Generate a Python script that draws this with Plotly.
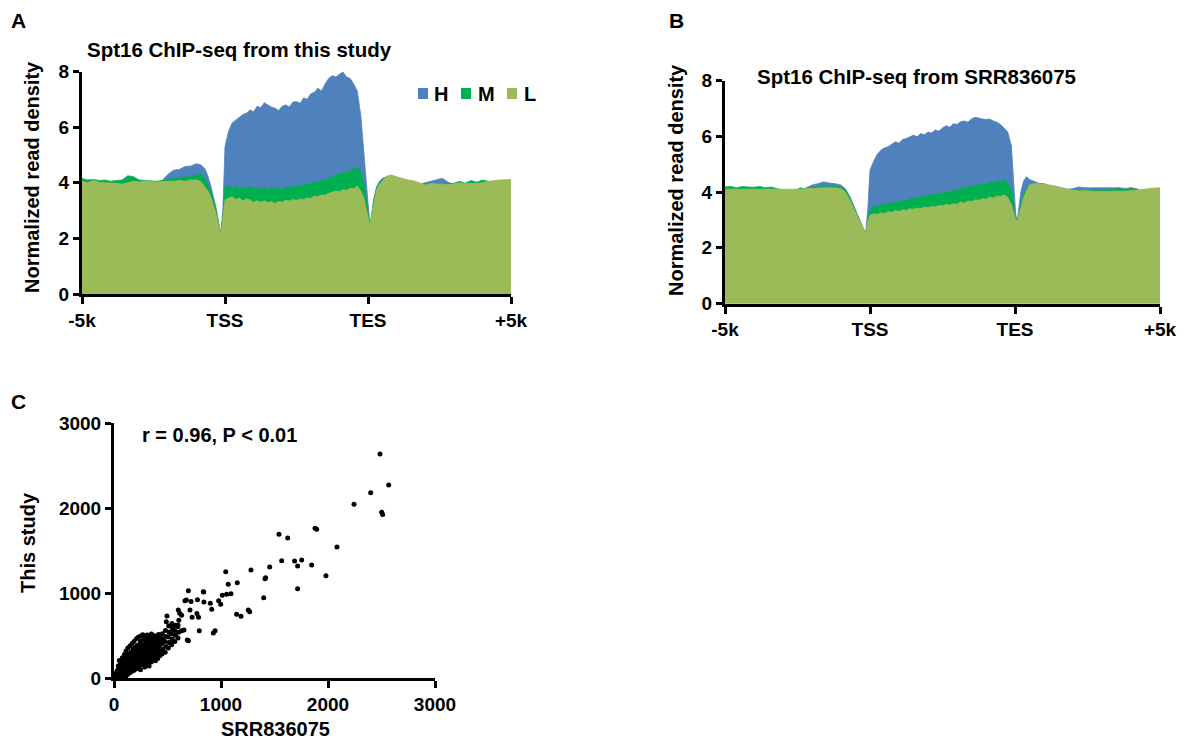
import plotly.graph_objects as go

PAGE_W, PAGE_H = 1186, 740
BODY_MARGIN = 8  # default page margin around the plot div
W, H = PAGE_W - BODY_MARGIN, PAGE_H - BODY_MARGIN
FONT = "Arial, 'Liberation Sans', sans-serif"
C_H, C_M, C_L = "#4F81BD", "#00B050", "#9BBB59"

# ---- metagene positions (0 = -5k, 100 = TSS, 200 = TES, 300 = +5k) ----
POS = [0, 4, 8, 12, 16, 20, 24, 28, 32, 36, 40, 44, 48, 52, 56, 60, 64, 68, 72, 76, 80, 83, 86, 88, 90, 92, 94, 95.5, 97, 98.5, 99.5,
       100, 102.5, 105, 107.5, 110, 112.5, 115, 117.5, 120, 122.5, 125, 127.5, 130, 132.5, 135, 137.5, 140, 142.5, 145, 147.5,
       150, 152.5, 155, 157.5, 160, 162.5, 165, 167.5, 170, 172.5, 175, 177.5, 180, 182.5, 185, 187.5, 190, 192.5, 195, 197.5,
       198.5, 199.5, 200.5, 201.5, 202.5, 204, 206, 208, 210, 213, 216, 220,
       224, 228, 232, 236, 240, 244, 248, 252, 256, 260, 264, 268, 272, 276, 280, 284, 288, 292, 296, 300]
POS_TICKS = [0, 100, 200, 300]
POS_LABELS = ["-5k", "TSS", "TES", "+5k"]
DENSITY_TICKS = [0, 2, 4, 6, 8]

# ---- Panel A: Spt16 ChIP-seq from this study ----
A_H = [4.0, 4.0, 4.0, 4.0, 4.0, 4.0, 4.0, 3.95, 4.0, 4.0, 4.0, 4.0, 4.0, 4.0, 4.08, 4.3, 4.45, 4.48, 4.58, 4.6, 4.68, 4.65, 4.5, 4.25, 3.9, 3.5, 3.05, 2.6, 2.15, 3.0, 4.3,
       5.3, 5.85, 6.15, 6.25, 6.35, 6.45, 6.5, 6.62, 6.55, 6.75, 6.7, 6.88, 6.8, 6.72, 6.68, 6.6, 6.75, 6.8, 6.72, 6.9,
       6.92, 6.85, 7.05, 7.0, 7.2, 7.25, 7.4, 7.3, 7.55, 7.75, 7.85, 7.8, 7.9, 7.98, 7.8, 7.75, 7.55, 7.3, 6.4, 4.9,
       4.2, 3.5, 2.8, 2.35, 2.8, 3.4, 3.85, 4.05, 4.15, 4.22, 4.25, 4.2,
       4.1, 4.05, 4.0, 3.95, 4.0, 4.05, 4.12, 4.16, 4.02, 3.95, 3.95, 3.95, 3.95, 3.95, 3.95, 4.0, 4.0, 4.0, 4.0, 4.0]
A_M = [4.15, 4.1, 4.12, 4.08, 4.1, 4.05, 4.08, 4.1, 4.25, 4.22, 4.1, 4.08, 4.05, 4.05, 4.08, 4.12, 4.15, 4.18, 4.2, 4.22, 4.28, 4.3, 4.15, 3.95, 3.7, 3.35, 2.95, 2.55, 2.13, 2.8, 3.5,
       3.85, 3.9, 3.78, 3.88, 3.75, 3.85, 3.8, 3.9, 3.78, 3.84, 3.74, 3.82, 3.76, 3.86, 3.78, 3.82, 3.75, 3.85, 3.8, 3.9,
       3.84, 3.92, 3.88, 3.98, 3.95, 4.05, 4.0, 4.1, 4.08, 4.2, 4.18, 4.3, 4.28, 4.38, 4.35, 4.45, 4.48, 4.58, 4.4, 3.9,
       3.5, 3.1, 2.7, 2.4, 2.85, 3.35, 3.8, 4.0, 4.1, 4.2, 4.2, 4.15,
       4.05, 4.0, 4.0, 3.9, 3.92, 3.95, 3.95, 3.92, 3.95, 3.98, 4.05, 3.98, 4.08, 4.02, 4.1, 4.05, 4.0, 4.05, 4.05, 4.08]
A_L = [4.05, 4.0, 4.08, 4.02, 4.0, 4.0, 3.98, 3.95, 4.0, 4.05, 4.03, 4.06, 4.05, 4.02, 4.05, 4.05, 4.05, 4.08, 4.05, 4.1, 4.1, 4.05, 3.85, 3.7, 3.5, 3.2, 2.85, 2.5, 2.12, 2.7, 3.2,
       3.38, 3.45, 3.5, 3.4, 3.45, 3.35, 3.42, 3.38, 3.3, 3.36, 3.3, 3.35, 3.28, 3.32, 3.26, 3.33, 3.3, 3.38, 3.34, 3.4,
       3.36, 3.42, 3.4, 3.46, 3.44, 3.52, 3.5, 3.56, 3.55, 3.62, 3.66, 3.7, 3.68, 3.75, 3.72, 3.8, 3.78, 3.88, 3.7, 3.4,
       3.1, 2.85, 2.6, 2.45, 2.85, 3.2, 3.74, 3.95, 4.05, 4.24, 4.28, 4.22,
       4.15, 4.1, 4.07, 4.0, 3.92, 3.97, 3.95, 3.95, 3.93, 3.96, 4.0, 3.97, 3.97, 3.98, 4.0, 4.05, 4.08, 4.1, 4.1, 4.12]

# ---- Panel B: Spt16 ChIP-seq from SRR836075 ----
B_H = [4.0, 4.0, 4.0, 4.0, 4.0, 4.0, 4.0, 4.0, 4.0, 4.0, 4.0, 4.0, 4.0, 4.0, 4.15, 4.25, 4.3, 4.36, 4.32, 4.3, 4.25, 4.12, 3.85, 3.6, 3.35, 3.1, 2.85, 2.65, 2.5, 3.4, 4.5,
       4.78, 5.1, 5.35, 5.5, 5.58, 5.62, 5.7, 5.8, 5.75, 5.88, 5.92, 5.98, 6.04, 5.98, 6.1, 6.05, 6.15, 6.12, 6.22, 6.18,
       6.3, 6.38, 6.32, 6.45, 6.42, 6.52, 6.55, 6.5, 6.62, 6.68, 6.64, 6.62, 6.6, 6.62, 6.55, 6.5, 6.42, 6.3, 6.15, 5.65,
       4.9, 3.9, 3.2, 2.95, 3.4, 4.0, 4.4, 4.55, 4.45, 4.38, 4.32, 4.3,
       4.22, 4.2, 4.15, 4.1, 4.12, 4.18, 4.15, 4.16, 4.15, 4.15, 4.14, 4.15, 4.15, 4.13, 4.15, 4.12, 4.0, 4.0, 4.0, 4.0]
B_M = [4.18, 4.2, 4.15, 4.2, 4.18, 4.17, 4.2, 4.15, 4.18, 4.12, 4.05, 4.05, 4.05, 4.15, 4.1, 4.15, 4.18, 4.2, 4.18, 4.2, 4.18, 4.08, 3.8, 3.55, 3.33, 3.08, 2.84, 2.66, 2.52, 3.1, 3.3,
       3.35, 3.5, 3.45, 3.58, 3.52, 3.62, 3.58, 3.66, 3.62, 3.72, 3.68, 3.78, 3.74, 3.82, 3.78, 3.88, 3.84, 3.92, 3.88, 3.98,
       3.94, 4.02, 3.98, 4.08, 4.04, 4.14, 4.1, 4.2, 4.16, 4.26, 4.22, 4.3, 4.26, 4.36, 4.3, 4.42, 4.35, 4.45, 4.3, 4.1,
       3.7, 3.3, 3.0, 2.93, 3.2, 3.5, 3.9, 4.15, 4.2, 4.25, 4.25, 4.22,
       4.18, 4.15, 4.1, 4.05, 4.05, 4.06, 4.05, 4.05, 4.08, 4.05, 4.1, 4.08, 4.14, 4.06, 4.15, 4.08, 4.05, 4.02, 4.05, 4.05]
B_L = [4.1, 4.1, 4.08, 4.1, 4.1, 4.08, 4.1, 4.1, 4.08, 4.1, 4.1, 4.08, 4.1, 4.1, 4.12, 4.12, 4.14, 4.15, 4.15, 4.15, 4.12, 4.0, 3.72, 3.5, 3.3, 3.05, 2.82, 2.65, 2.52, 2.95, 3.15,
       3.17, 3.22, 3.2, 3.26, 3.23, 3.3, 3.27, 3.34, 3.3, 3.36, 3.34, 3.4, 3.38, 3.43, 3.4, 3.46, 3.44, 3.48, 3.46, 3.52,
       3.5, 3.55, 3.53, 3.58, 3.56, 3.64, 3.6, 3.68, 3.66, 3.72, 3.7, 3.76, 3.74, 3.82, 3.78, 3.86, 3.84, 3.9, 3.8, 3.55,
       3.35, 3.15, 3.0, 2.95, 3.15, 3.37, 3.8, 4.05, 4.25, 4.3, 4.31, 4.27,
       4.25, 4.2, 4.15, 4.1, 4.06, 4.04, 4.05, 4.03, 4.02, 4.03, 4.02, 4.03, 4.02, 4.03, 4.05, 4.08, 4.1, 4.12, 4.14, 4.15]

# ---- Panel C: gene-level read counts ----
SRR836075 = [15, 20, 22, 38, 62, 44, 28, 35, 31, 40, 48, 52, 55, 47, 58, 50,
             68, 72, 66, 75, 70, 78, 88, 93, 86, 95, 90, 98,
             108, 113, 106, 116, 110, 118, 112, 128, 134, 126, 136, 131, 138, 129,
             148, 154, 146, 157, 151, 158, 149, 168, 174, 166, 176, 171, 178, 169,
             188, 193, 186, 196, 190, 197, 187, 208, 214, 206, 216, 211, 218, 209,
             228, 234, 226, 236, 231, 238, 229, 248, 253, 246, 256, 251, 258, 249, 255,
             268, 274, 266, 276, 271, 277, 269, 288, 293, 286, 296, 291, 297, 289,
             308, 314, 306, 316, 311, 318, 309, 328, 334, 326, 336, 331, 338, 329,
             348, 354, 346, 356, 351, 357, 349, 368, 374, 366, 376, 371, 377,
             388, 394, 386, 396, 391, 397, 408, 414, 406, 416, 411, 417,
             428, 434, 426, 436, 431, 448, 454, 446, 456, 451,
             478, 484, 476, 486, 481, 508, 514, 506, 516, 511,
             538, 544, 536, 546, 541, 568, 574, 566, 576, 598, 604, 596, 606,
             695, 835, 663, 720, 780, 840, 900, 601, 710, 775, 790, 730, 632, 797, 695, 632, 928, 945,
             550, 495, 555, 489, 614, 676, 685, 654, 598, 838,
             913, 978, 997, 1012, 1053, 1093, 1068, 1152, 1044, 1146, 1187, 1255, 1268, 1280, 1455,
             1417, 1411, 1399, 1542, 1623, 1567, 1688, 1754, 1716, 1847, 1981, 1716, 2084,
             1879, 1894, 2243, 2399, 2486, 2567, 2502, 2511,
             160, 200, 240, 280, 320, 360, 400, 440, 180, 260, 340, 420, 140, 120]
THIS_STUDY = [5, 30, 60, 20, 10, 70, 12, 45, 88, 140, 5, 33, 66, 105, 155, 205,
              22, 55, 92, 128, 185, 238, 35, 72, 115, 158, 214, 276,
              12, 52, 98, 143, 193, 248, 318, 42, 83, 128, 172, 224, 281, 352,
              62, 108, 152, 198, 253, 302, 377, 78, 124, 168, 232, 271, 334, 402,
              92, 148, 204, 248, 303, 358, 428, 108, 163, 218, 272, 323, 382, 462,
              118, 182, 232, 288, 342, 398, 482, 98, 152, 203, 258, 312, 372, 432, 498,
              168, 223, 278, 333, 388, 452, 508, 128, 192, 248, 302, 352, 412, 468,
              158, 222, 268, 332, 378, 442, 506, 142, 198, 262, 312, 362, 418, 482,
              188, 242, 298, 352, 402, 458, 518, 222, 278, 332, 388, 442, 498,
              202, 262, 318, 372, 422, 478, 228, 292, 348, 402, 452, 512,
              262, 318, 382, 428, 488, 282, 338, 402, 458, 522,
              302, 372, 428, 488, 558, 352, 418, 482, 538, 612,
              392, 458, 522, 578, 642, 428, 502, 558, 622, 472, 538, 602, 678,
              1027, 1016, 910, 900, 920, 895, 880, 800, 800, 760, 715, 715, 737, 557, 439, 557, 529, 557,
              604, 730, 427, 663, 761, 918, 447, 565, 624, 1012,
              808, 910, 867, 973, 984, 992, 1102, 1121, 1251, 749, 726, 800, 780, 1271, 1306,
              1180, 1168, 945, 1690, 1647, 1380, 1376, 1388, 1318, 1329, 1204, 1051, 1541,
              1761, 1750, 2043, 2180, 2635, 2270, 1949, 1925,
              135, 175, 215, 255, 295, 335, 375, 415, 290, 370, 450, 500, 260, 215]
COUNT_TICKS = [0, 1000, 2000, 3000]


def px_x(p):
    return (p - BODY_MARGIN) / W


def px_y(p):
    return 1 - (p - BODY_MARGIN) / H


fig = go.Figure()

for xa, ya, series in (("x", "y", (A_H, A_M, A_L)), ("x2", "y2", (B_H, B_M, B_L))):
    for vals, col in zip(series, (C_H, C_M, C_L)):
        fig.add_trace(go.Scatter(x=POS, y=vals, mode="lines", fill="tozeroy",
                                 line=dict(color=col, width=0.8), fillcolor=col,
                                 xaxis=xa, yaxis=ya, showlegend=False, hoverinfo="skip"))

fig.add_trace(go.Scatter(x=SRR836075, y=THIS_STUDY, mode="markers",
                         marker=dict(color="black", size=5),
                         xaxis="x3", yaxis="y3", showlegend=False, hoverinfo="skip"))

tickfont = dict(family=FONT, size=19, color="black", weight="bold")
common = dict(showline=True, linewidth=3, linecolor="black", ticks="outside",
              tickwidth=3, tickcolor="black", showgrid=False, zeroline=False,
              tickfont=tickfont, fixedrange=True, automargin=False)

fig.update_layout(
    width=W, height=H, margin=dict(l=0, r=0, t=0, b=0, autoexpand=False),
    paper_bgcolor="white", plot_bgcolor="white",
    font=dict(family=FONT, color="black"),
    xaxis=dict(domain=[px_x(82), px_x(511)], range=[0, 300], anchor="y",
               tickvals=POS_TICKS, ticktext=POS_LABELS, ticklen=7, **common),
    yaxis=dict(domain=[px_y(294), px_y(71.5)], range=[0, 8], anchor="x",
               tickvals=DENSITY_TICKS, ticklen=6, **common),
    xaxis2=dict(domain=[px_x(725), px_x(1160)], range=[0, 300], anchor="y2",
                tickvals=POS_TICKS, ticktext=POS_LABELS, ticklen=7, **common),
    yaxis2=dict(domain=[px_y(303.5), px_y(80.5)], range=[0, 8], anchor="x2",
                tickvals=DENSITY_TICKS, ticklen=6, **common),
    xaxis3=dict(domain=[px_x(114), px_x(435)], range=[0, 3000], anchor="y3",
                tickvals=COUNT_TICKS, ticklen=7, **common),
    yaxis3=dict(domain=[px_y(678), px_y(423)], range=[0, 3000], anchor="x3",
                tickvals=COUNT_TICKS, ticklen=6, **common),
)


def ann(text, x, y, size=20, xanchor="center", angle=0):
    fig.add_annotation(text=text, x=px_x(x), y=px_y(y), xref="paper", yref="paper",
                       xanchor=xanchor, yanchor="middle", showarrow=False, textangle=angle,
                       font=dict(family=FONT, size=size, color="black", weight="bold"))


ann("A", 18, 21, 21)
ann("B", 676, 20, 21)
ann("C", 18, 401, 21)
ann("Spt16 ChIP-seq from this study", 85, 50, 20.5, "left")
ann("Spt16 ChIP-seq from SRR836075", 755, 76, 20.5, "left")
ann("Normalized read density", 32, 177, 20, angle=-90)
ann("Normalized read density", 676, 180, 20, angle=-90)
ann("r = 0.96, P < 0.01", 140, 435, 20, "left")
ann("This study", 28, 543, 20, angle=-90)
ann("SRR836075", 275, 729, 20)

# legend of panel A
for (x0, x1, col), (lbl, tx) in zip(((418, 428, C_H), (461, 471, C_M), (507, 517, C_L)),
                                    (("H", 432), ("M", 476), ("L", 522))):
    fig.add_shape(type="rect", xref="paper", yref="paper", x0=px_x(x0), x1=px_x(x1),
                  y0=px_y(99), y1=px_y(88), fillcolor=col, line=dict(width=0))
    ann(lbl, tx, 94, 20, "left")

fig.write_html("out.html")
